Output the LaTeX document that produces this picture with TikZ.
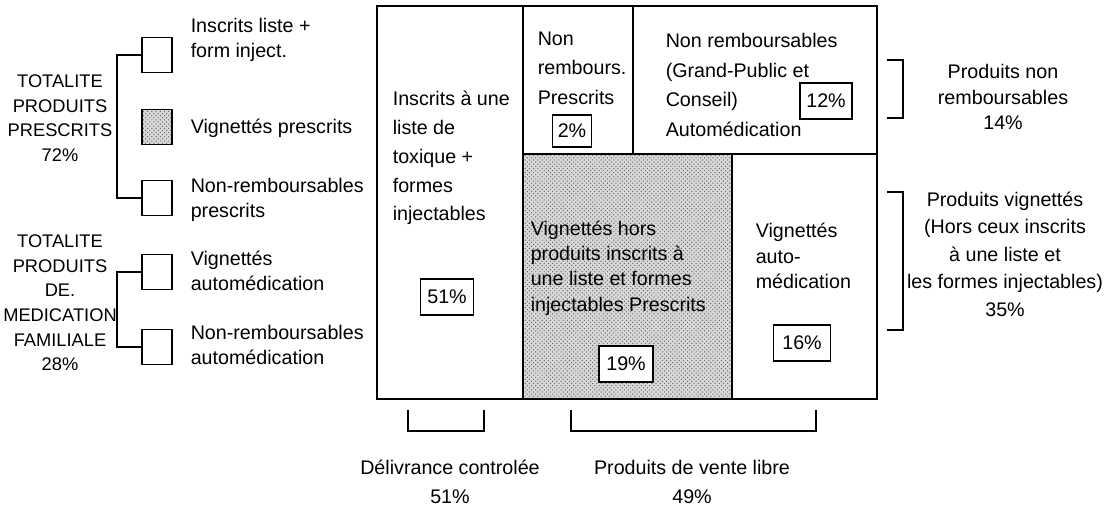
\documentclass[tikz,border=0pt]{standalone}
\usepackage{fontspec}
\setmainfont{Liberation Sans}
\usetikzlibrary{patterns}
\begin{document}
\begin{tikzpicture}[x=0.025cm,y=-0.025cm,line width=1.1pt,
  every node/.style={font=\fontsize{14}{18}\selectfont,inner sep=0pt},
  txt/.style={align=left,anchor=west},
  ctr/.style={align=center},
  wide/.style={font=\fontsize{14}{21}\selectfont},
  caps/.style={font=\fontsize{13}{17.5}\selectfont},
  legbox/.style={draw,minimum width=0.75cm,minimum height=0.87cm},
  dotted fill/.style={preaction={fill=gray!30},pattern=crosshatch dots,pattern color=black!60},
  pct/.style={draw,fill=white,minimum height=0.9cm,minimum width=#1}]
  \useasboundingbox (0,0) rectangle (1117,508);
  % legend on the left
  \node[legbox] (b1) at (157,55) {};
  \node[legbox,dotted fill] (b2) at (157,127) {};
  \node[legbox] (b3) at (157,198) {};
  \node[legbox] (b4) at (157,272) {};
  \node[legbox] (b5) at (157,347) {};
  \node[txt] (t1) at (190,40) {Inscrits liste +\\form inject.};
  \node[txt] (t2) at (190,128) {Vignettés prescrits};
  \node[txt] (t3) at (190,200) {Non-remboursables\\prescrits};
  \node[txt] (t4) at (190,271) {Vignettés\\automédication};
  \node[txt] (t5) at (190,345) {Non-remboursables\\automédication};
  \draw (b1.west) -- ++(-24,0) |- (b3.west);
  \draw (b4.west) -- ++(-24,0) |- (b5.west);
  \node[ctr,caps] (tot1) at (60,118) {TOTALITE\\PRODUITS\\PRESCRITS\\72\%};
  \node[ctr,caps] (tot2) at (60,303) {TOTALITE\\PRODUITS\\DE.\\MEDICATION\\FAMILIALE\\28\%};
  % the big box
  \fill[dotted fill] (523,154) rectangle (732,399);
  \draw (377,6) rectangle (877,399);
  \draw (523,6) -- (523,399);
  \draw (523,154) -- (877,154);
  \draw (633,6) -- (633,154);
  \draw (732,154) -- (732,399);
  \node[txt,font=\fontsize{14}{20.5}\selectfont] (c1) at (392,158) {Inscrits à une\\liste de\\toxique +\\formes\\injectables};
  \node[pct=1.33cm] (p1) at (447,297) {51\%};
  \node[txt,wide] (c2) at (537,68) {Non\\rembours.\\Prescrits};
  \node[pct=0.98cm,minimum height=0.8cm] (p2) at (572,131) {2\%};
  \node[txt,wide] (c3) at (665,85) {Non remboursables\\(Grand-Public et\\Conseil)\\Automédication};
  \node[pct=1.3cm] (p3) at (826,101) {12\%};
  \node[txt] (c4) at (530,268) {Vignettés hors\\produits inscrits à\\une liste et formes\\injectables Prescrits};
  \node[pct=1.35cm] (p4) at (626,364) {19\%};
  \node[txt] (c5) at (755,256) {Vignettés\\auto-\\médication};
  \node[pct=1.43cm] (p5) at (802,343) {16\%};
  % brackets on the right
  \coordinate (r1) at (887,60);
  \coordinate (r2) at (887,118);
  \coordinate (r3) at (887,192);
  \coordinate (r4) at (887,330);
  \draw (r1) -- ++(16,0) |- (r2);
  \draw (r3) -- ++(16,0) |- (r4);
  \node[ctr] (n1) at (1003,97) {Produits non\\remboursables\\14\%};
  \node[ctr,font=\fontsize{14}{19.5}\selectfont] (n2) at (1005,254) {Produits vignettés\\(Hors ceux inscrits\\à une liste et\\les formes injectables)\\35\%};
  % brackets below
  \coordinate (d1) at (408,410);
  \coordinate (d2) at (484,410);
  \coordinate (d3) at (571,410);
  \coordinate (d4) at (816,410);
  \draw (d1) -- ++(0,21) -| (d2);
  \draw (d3) -- ++(0,21) -| (d4);
  \node[ctr,wide] (s1) at (450,482) {Délivrance controlée\\51\%};
  \node[ctr,wide] (s2) at (692,482) {Produits de vente libre\\49\%};
\end{tikzpicture}
\end{document}
